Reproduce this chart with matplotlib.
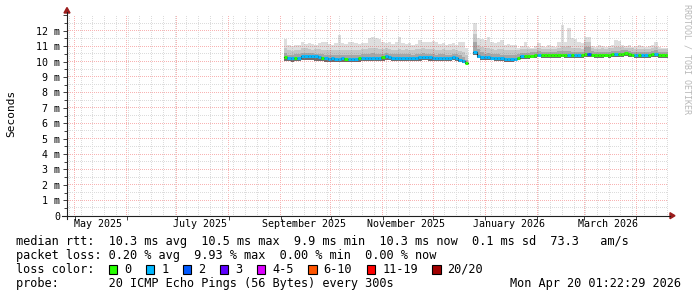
import numpy as np
import pandas as pd
import matplotlib
matplotlib.use("Agg")
import matplotlib.pyplot as plt
import matplotlib.dates as mdates
from matplotlib.ticker import MultipleLocator, FuncFormatter, NullFormatter
from matplotlib.patches import Rectangle, Polygon

plt.rcParams['font.family'] = ['DejaVu Sans Mono']

# graph window
t_start = "2025-04-26 12:00"
t_end = "2026-04-20 01:22"

# two stretches of samples, one value every 2 days
seg1_start = "2025-09-03"
seg2_start = "2025-12-25"
step_days = 2

# median rtt (ms) and packet loss class per sample
seg1_median = [10.28, 10.22, 10.21, 10.22, 10.25, 10.33, 10.38, 10.37, 10.34, 10.33,
               10.32, 10.24, 10.20, 10.19, 10.20, 10.19, 10.18, 10.20, 10.19, 10.17,
               10.18, 10.17, 10.20, 10.22, 10.24, 10.25, 10.26, 10.24, 10.22, 10.27,
               10.34, 10.30, 10.25, 10.23, 10.24, 10.23, 10.25, 10.24, 10.22, 10.25,
               10.27, 10.30, 10.29, 10.28, 10.24, 10.22, 10.23, 10.25, 10.22, 10.22,
               10.30, 10.24, 10.12, 10.05, 9.90]
seg1_loss = [0, 1, 1, 0, 1, 1, 1, 1, 1, 1,
             1, 0, 1, 1, 1, 1, 1, 1, 0, 1,
             1, 1, 0, 1, 1, 1, 1, 1, 1, 0,
             1, 1, 1, 1, 1, 1, 1, 1, 1, 1,
             1, 1, 1, 1, 1, 1, 1, 1, 1, 1,
             1, 1, 1, 1, 0]
# smoke: lowest ping, top of dark band, top of mid band, highest ping (ms)
seg1_lo = [10.05, 10.02, 10.00, 10.01, 10.03, 10.08, 10.12, 10.10, 10.08, 10.06,
           10.05, 10.02, 10.00, 9.99, 10.00, 9.99, 9.98, 10.00, 9.99, 9.97,
           9.98, 9.98, 10.00, 10.01, 10.03, 10.04, 10.04, 10.03, 10.01, 10.05,
           10.10, 10.08, 10.04, 10.02, 10.03, 10.02, 10.03, 10.02, 10.01, 10.03,
           10.05, 10.08, 10.07, 10.06, 10.03, 10.01, 10.02, 10.03, 10.01, 10.01,
           10.08, 10.02, 9.95, 9.90, 9.82]
seg1_mid = [10.55, 10.45, 10.44, 10.46, 10.50, 10.55, 10.58, 10.56, 10.54, 10.52,
            10.52, 10.47, 10.44, 10.43, 10.45, 10.44, 10.43, 10.45, 10.44, 10.42,
            10.44, 10.43, 10.45, 10.47, 10.50, 10.52, 10.53, 10.50, 10.47, 10.50,
            10.56, 10.52, 10.48, 10.46, 10.48, 10.46, 10.48, 10.47, 10.45, 10.48,
            10.50, 10.53, 10.52, 10.51, 10.47, 10.45, 10.46, 10.48, 10.45, 10.45,
            10.52, 10.47, 10.40, 10.30, 10.10]
seg1_hi = [10.90, 10.72, 10.70, 10.74, 10.78, 10.85, 10.88, 10.82, 10.78, 10.80,
           10.82, 10.78, 10.74, 10.72, 10.75, 10.74, 10.72, 10.78, 10.75, 10.72,
           10.76, 10.73, 10.76, 10.80, 10.84, 10.88, 10.90, 10.86, 10.80, 10.82,
           10.88, 10.82, 10.78, 10.76, 10.80, 10.76, 10.80, 10.78, 10.75, 10.80,
           10.82, 10.85, 10.84, 10.82, 10.80, 10.76, 10.78, 10.80, 10.76, 10.75,
           10.82, 10.78, 10.70, 10.60, 10.40]
seg1_top = [11.45, 11.05, 11.00, 11.05, 11.10, 11.30, 11.15, 11.20, 11.15, 11.10,
            11.20, 11.30, 11.25, 11.15, 11.10, 11.20, 11.72, 11.20, 11.15, 11.30,
            11.30, 11.20, 11.15, 11.20, 11.20, 11.50, 11.60, 11.55, 11.45, 11.30,
            11.20, 11.25, 11.15, 11.30, 11.62, 11.20, 11.15, 11.20, 11.10, 11.15,
            11.40, 11.30, 11.30, 11.25, 11.35, 11.30, 11.15, 11.20, 11.10, 11.15,
            11.20, 11.10, 11.30, 11.25, 10.90]

seg2_median = [10.60, 10.38, 10.30, 10.27, 10.27, 10.26, 10.23, 10.22, 10.20, 10.16,
               10.14, 10.15, 10.19, 10.25, 10.33, 10.35, 10.34, 10.38, 10.44, 10.45,
               10.43, 10.44, 10.42, 10.43, 10.42, 10.44, 10.45, 10.44, 10.43, 10.41,
               10.40, 10.41, 10.40, 10.47, 10.52, 10.45, 10.44, 10.43, 10.44, 10.45,
               10.44, 10.47, 10.49, 10.48, 10.52, 10.53, 10.50, 10.45, 10.43, 10.40,
               10.41, 10.42, 10.40, 10.47, 10.52, 10.42, 10.40, 10.40]
seg2_loss = [1, 1, 1, 1, 1, 1, 1, 1, 1, 1,
             1, 1, 1, 0, 1, 0, 0, 0, 0, 1,
             0, 0, 0, 0, 0, 0, 0, 0, 1, 0,
             1, 1, 0, 0, 2, 0, 0, 0, 0, 0,
             0, 0, 1, 0, 0, 0, 0, 0, 1, 0,
             1, 1, 0, 0, 1, 0, 0, 0]
seg2_lo = [10.45, 10.20, 10.12, 10.10, 10.10, 10.08, 10.05, 10.04, 10.02, 10.00,
           9.98, 9.98, 10.02, 10.08, 10.15, 10.18, 10.17, 10.20, 10.26, 10.27,
           10.25, 10.26, 10.24, 10.25, 10.24, 10.26, 10.27, 10.26, 10.25, 10.23,
           10.22, 10.23, 10.22, 10.28, 10.30, 10.27, 10.26, 10.25, 10.26, 10.27,
           10.26, 10.28, 10.30, 10.29, 10.32, 10.33, 10.31, 10.27, 10.25, 10.22,
           10.23, 10.24, 10.22, 10.28, 10.32, 10.24, 10.22, 10.22]
seg2_mid = [11.30, 10.80, 10.60, 10.52, 10.55, 10.50, 10.48, 10.47, 10.45, 10.42,
            10.40, 10.41, 10.45, 10.50, 10.56, 10.58, 10.57, 10.60, 10.64, 10.66,
            10.63, 10.64, 10.62, 10.63, 10.62, 10.66, 10.70, 10.66, 10.68, 10.62,
            10.61, 10.62, 10.62, 10.95, 10.95, 10.66, 10.64, 10.63, 10.64, 10.65,
            10.64, 10.67, 10.70, 10.68, 10.72, 10.72, 10.70, 10.65, 10.63, 10.60,
            10.61, 10.62, 10.60, 10.66, 10.72, 10.62, 10.60, 10.60]
seg2_hi = [11.80, 11.10, 10.95, 10.85, 10.90, 10.82, 10.78, 10.80, 10.82, 10.74,
           10.72, 10.72, 10.76, 10.76, 10.80, 10.84, 10.80, 10.80, 10.84, 10.88,
           10.84, 10.84, 10.84, 10.84, 10.82, 10.90, 11.00, 10.92, 11.00, 10.88,
           10.86, 10.86, 10.84, 11.30, 11.25, 10.86, 10.84, 10.84, 10.85, 10.84,
           10.85, 10.88, 10.95, 10.92, 10.92, 10.90, 10.88, 10.85, 10.84, 10.82,
           10.83, 10.82, 10.82, 10.88, 10.95, 10.82, 10.80, 10.80]
seg2_top = [12.50, 11.55, 11.45, 11.42, 11.60, 11.30, 11.20, 11.25, 11.40, 11.10,
            11.15, 11.05, 11.10, 10.90, 11.00, 11.30, 10.95, 10.90, 11.00, 11.20,
            11.00, 10.95, 11.10, 11.00, 10.95, 11.30, 12.40, 11.30, 12.15, 11.50,
            11.45, 11.30, 11.20, 11.60, 11.60, 11.00, 10.95, 11.05, 11.00, 10.95,
            11.00, 11.05, 11.40, 11.35, 11.10, 11.00, 11.05, 10.95, 11.00, 11.05,
            11.00, 10.95, 11.00, 11.10, 11.30, 10.95, 10.90, 10.90]

loss_labels = ["0", "1", "2", "3", "4-5", "6-10", "11-19", "20/20"]
loss_colors = ["#26ff00", "#00b8ff", "#0059ff", "#5e00ff",
               "#dd00ff", "#ff5500", "#ff0000", "#a00000"]

x_labels = ["May 2025", "July 2025", "September 2025",
            "November 2025", "January 2026", "March 2026"]
x_label_dates = ["2025-05-15", "2025-07-15", "2025-09-15",
                 "2025-11-15", "2026-01-15", "2026-03-15"]

stats_lines = [
    "median rtt:  10.3 ms avg  10.5 ms max  9.9 ms min  10.3 ms now  0.1 ms sd  73.3   am/s",
    "packet loss: 0.20 % avg  9.93 % max  0.00 % min  0.00 % now",
]
probe_text = "probe:       20 ICMP Echo Pings (56 Bytes) every 300s"
stamp_text = "Mon Apr 20 01:22:29 2026"

W, H = 697, 297
fig = plt.figure(figsize=(W / 100, H / 100), dpi=100)
fig.patch.set_facecolor("white")

y0_px, ytop_px = 215.7, 15.3
x0_px, x1_px = 67, 668
ax = fig.add_axes([x0_px / W, 1 - y0_px / H, (x1_px - x0_px) / W, (y0_px - ytop_px) / H])
ax.set_facecolor("white")
ax.set_xlim(mdates.date2num(pd.Timestamp(t_start)), mdates.date2num(pd.Timestamp(t_end)))
ax.set_ylim(0, 13)
for s in ax.spines.values():
    s.set_visible(False)

ax.yaxis.set_major_locator(MultipleLocator(1))
ax.yaxis.set_minor_locator(MultipleLocator(0.5))
ax.yaxis.set_major_formatter(FuncFormatter(
    lambda v, p: "0" if v == 0 else ("" if v > 12.5 else f"{v:.0f} m")))
ax.xaxis.set_major_locator(mdates.MonthLocator())
ax.xaxis.set_minor_locator(mdates.WeekdayLocator(byweekday=mdates.MO))
ax.xaxis.set_major_formatter(NullFormatter())
ax.tick_params(axis="y", which="major", length=3, width=0.7, color="#404040",
               labelsize=7.2, pad=2)
ax.tick_params(axis="y", which="minor", length=2, width=0.7, color="#404040")
ax.tick_params(axis="x", which="major", length=3, width=0.7, color="#404040")
ax.tick_params(axis="x", which="minor", length=0)

for d, lab in zip(x_label_dates, x_labels):
    ax.text(mdates.date2num(pd.Timestamp(d)), -(224 - y0_px) / (y0_px - ytop_px), lab,
            transform=ax.get_xaxis_transform(), ha="center", va="center", fontsize=7.2)

# smoke and median
segments = [
    (seg1_start, seg1_median, seg1_loss, seg1_lo, seg1_mid, seg1_hi, seg1_top),
    (seg2_start, seg2_median, seg2_loss, seg2_lo, seg2_mid, seg2_hi, seg2_top),
]
for start, med, loss, lo, mid, hi, top in segments:
    t = mdates.date2num(pd.date_range(start, periods=len(med), freq=f"{step_days}D"))
    med, lo, mid, hi, top = map(np.array, (med, lo, mid, hi, top))
    ax.bar(t, top - lo, bottom=lo, width=step_days, align="edge", color="#dedede", lw=0)
    ax.bar(t, hi - lo, bottom=lo, width=step_days, align="edge", color="#c6c6c6", lw=0)
    ax.bar(t, mid - lo, bottom=lo, width=step_days, align="edge", color="#a6a6a6", lw=0)
    ax.bar(t, med - lo, bottom=lo, width=step_days, align="edge", color="#6e6e6e", lw=0)
    te = np.append(t, t[-1] + step_days)
    ax.step(te, np.append(med, med[-1]), where="post", color="#202020", lw=0.8)
    ax.hlines(med, t, t + step_days, colors=[loss_colors[l] for l in loss], lw=2.2)

# pixel-exact dotted grid (1 px on / 1 px off), painted over the graph like rrdtool
grid = np.zeros((H, W, 4))
minor_rgba = (0.55, 0.55, 0.55, 0.30)
major_rgba = (0.92, 0.10, 0.10, 0.33)
r_top, r_bot = int(np.ceil(ytop_px)), int(y0_px)
c_left, c_right = x0_px + 1, x1_px


def to_px(xv, yv):
    p = ax.transData.transform(np.column_stack([xv, yv]))
    return np.floor(p[:, 0]).astype(int), np.floor(H - p[:, 1]).astype(int)


xmin_locs = ax.xaxis.get_minorticklocs()
xmaj_locs = ax.xaxis.get_majorticklocs()
ymin_locs = ax.yaxis.get_minorticklocs()
ymaj_locs = ax.yaxis.get_majorticklocs()
for locs, rgba in ((xmin_locs, minor_rgba), (xmaj_locs, major_rgba)):
    cols, _ = to_px(locs, np.zeros(len(locs)))
    for c in cols:
        if c_left <= c < c_right:
            grid[r_top:r_bot:2, c] = rgba
for locs, rgba in ((ymin_locs, minor_rgba), (ymaj_locs, major_rgba)):
    _, rows = to_px(np.full(len(locs), ax.get_xlim()[0]), locs)
    for r in rows:
        if r_top <= r < r_bot:
            grid[r, c_left:c_right:2] = rgba

# overlay in pixel coordinates for grid, axes, arrows and legend
ov = fig.add_axes([0, 0, 1, 1], facecolor="none")
ov.set_xlim(0, W)
ov.set_ylim(H, 0)
ov.axis("off")
ov.imshow(grid, extent=(0, W, H, 0), interpolation="nearest", aspect="auto", zorder=0)
ov.plot([62, 670], [y0_px, y0_px], color="#202020", lw=0.8)
ov.plot([x0_px, x0_px], [y0_px + 3, 12], color="#202020", lw=0.8)
ov.add_patch(Polygon([[670, y0_px - 3], [670, y0_px + 3], [675, y0_px]], color="#9b1c1c"))
ov.add_patch(Polygon([[x0_px - 3, 13], [x0_px + 3, 13], [x0_px, 7.5]], color="#9b1c1c"))

ov.text(11, 113, "Seconds", rotation=90, ha="center", va="center", fontsize=8)
ov.text(687, 4, "RRDTOOL / TOBI OETIKER", rotation=270, ha="center", va="top",
        fontsize=6, color="#b8b8b8")

fs = 8.6
for i, line in enumerate(stats_lines):
    ov.text(16, 241 + 14.3 * i, line, ha="left", va="center", fontsize=fs)
ov.text(16, 269.3, "loss color:", ha="left", va="center", fontsize=fs)
cx = 108.5
for lab, col in zip(loss_labels, loss_colors):
    ov.add_patch(Rectangle((cx, 264.8), 8.5, 9, facecolor=col, edgecolor="black", lw=0.8))
    ov.text(cx + 15.5, 269.3, lab, ha="left", va="center", fontsize=fs)
    cx += 30 + 7.1 * len(lab)
ov.text(16, 283.3, probe_text, ha="left", va="center", fontsize=fs)
ov.text(681, 283.3, stamp_text, ha="right", va="center", fontsize=fs)

fig.savefig("out.png", dpi=100)
